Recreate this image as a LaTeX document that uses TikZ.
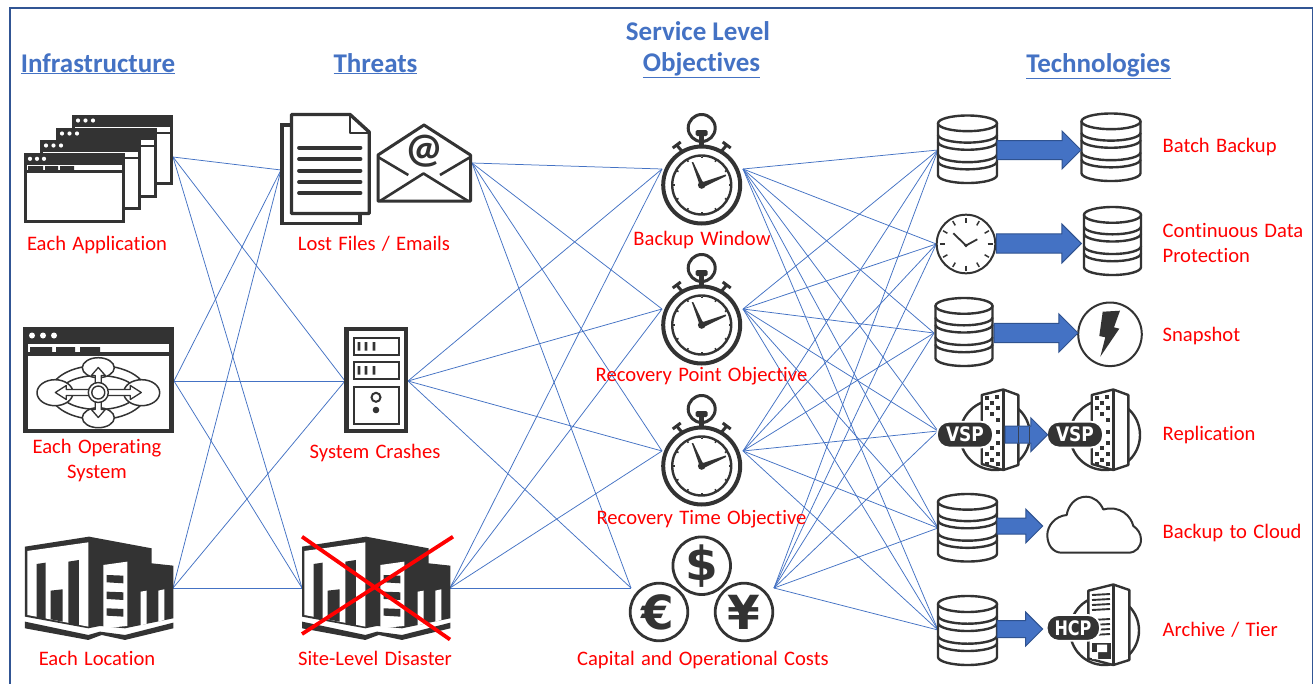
\documentclass[tikz,border=0pt]{standalone}
\usepackage{fontspec}
\setmainfont{Carlito}[Ligatures=NoCommon]
\newfontfamily\labfont{Carlito}[Ligatures=NoCommon,WordSpace=1.35]
\newfontfamily\symfont{DejaVu Sans}
\usetikzlibrary{calc,shapes.arrows}
\definecolor{dk}{HTML}{333333}
\definecolor{linkblue}{HTML}{4472C4}
\definecolor{edgeblue}{HTML}{2F528F}
\definecolor{redlab}{HTML}{FF0000}
\tikzset{
  hub/.style={inner sep=0pt,outer sep=0pt,minimum width=#1,minimum height=20pt,shape=rectangle},
  link/.style={draw=linkblue,line width=0.75pt},
  head/.style={font=\fontsize{27}{31}\selectfont\bfseries,text=linkblue,inner sep=0pt,align=center,anchor=base},
  lab/.style={font=\labfont\fontsize{20.6}{25}\selectfont,text=redlab,inner sep=0pt,align=center,anchor=base},
  labm/.style={font=\labfont\fontsize{20.6}{25}\selectfont,text=redlab,inner sep=0pt,align=center},
  labl/.style={font=\labfont\fontsize{20.6}{25}\selectfont,text=redlab,inner sep=0pt,align=left,anchor=base west},
  labw/.style={font=\labfont\fontsize{20.6}{25}\selectfont,text=redlab,inner sep=0pt,align=left,anchor=west},
  blockarrow/.style={single arrow,fill=linkblue,draw=edgeblue,line width=1pt,inner xsep=0pt,outer sep=0pt,
    minimum height=#1,single arrow tip angle=90,anchor=tail},
  ico/.style={draw=dk,line width=2.4pt,line join=round},
  pilltext/.style={font=\symfont\fontsize{20}{20}\selectfont\bfseries,text=white,inner sep=0pt},
  coin/.style={font=\symfont\fontsize{47}{47}\selectfont\bfseries,text=dk,inner sep=0pt},
}
\newcommand{\backwin}[2]{%
  \begin{scope}[shift={(#1,#2)}]
  \fill[dk] (0,0) rectangle (101,70);
  \fill[white] (3,11.5) rectangle (98,16.5);
  \fill[white] (3,18.5) rectangle (98,67);
  \foreach \q in {6,13.5,21}{\fill[white] (\q,5.5) circle (2.1);}
  \end{scope}}
\newcommand{\dbicon}[4]{%
  \begin{scope}[shift={(#1,#2)},xscale=#3/60,yscale=#4/70]
  \draw[ico,fill=white] (0,8) -- (0,61) arc[start angle=180,end angle=0,x radius=30,y radius=8] -- (60,8) -- cycle;
  \draw[ico,fill=white] (30,8) ellipse[x radius=30,y radius=8];
  \foreach \q in {19.7,27,39.7,47}{\draw[ico] (0,\q) arc[start angle=180,end angle=0,x radius=30,y radius=8];}
  \end{scope}}
\newcommand{\stopwatch}[2]{%
  \begin{scope}[shift={(#1,#2)}]
  \draw[ico,line width=3pt,fill=white] (0,-57) circle (13.5);
  \fill[dk] (-2.5,-51) rectangle (2.5,-36);
  \fill[dk,rounded corners=1.5pt] (-6,-55) rectangle (6,-49);
  \draw[ico,line width=3pt] (-20,-34) -- (-25,-40) (-29,-37) -- (-21,-43);
  \draw[ico,line width=3pt] (20,-34) -- (25,-40) (29,-37) -- (21,-43);
  \draw[ico,line width=4pt,fill=white] (0,0) circle (38.5);
  \draw[ico,line width=2.4pt] (0,0) circle (29.5);
  \foreach \q in {0,30,...,330}{\draw[dk,line width=1.6pt] (\q:28.5) -- (\q:26.8);}
  \fill[dk] (-2,0) -- (-10,-23) -- (-8.5,-23) -- (2,-1) -- cycle;
  \fill[dk] (0,-2.5) -- (24,-10.5) -- (24.5,-9) -- (1,2.5) -- cycle;
  \fill[dk] (0,0) circle (3.8);
  \end{scope}}
\newcommand{\building}[1]{%
  \begin{scope}[shift={(#1,320)},x=0.3333pt,y=-0.3333pt]
  \fill[dk] (75,680) -- (267,650) -- (455,685) -- (455,730) -- (520,737) -- (520,895) -- (375,925) -- (300,918) -- (265,925) -- (75,890) -- cycle;
  \fill[dk] (75,905) -- (265,945) -- (300,935) -- (375,945) -- (520,908) -- (520,925) -- (375,960) -- (305,945) -- (265,960) -- (75,925) -- cycle;
  \fill[white] (82,693) -- (265,667) -- (265,920) -- (82,885) -- cycle;
  \fill[dk] (110,732) -- (137,728) -- (137,898) -- (110,892) -- cycle;
  \fill[dk] (152,812) -- (188,808) -- (188,905) -- (152,898) -- cycle;
  \fill[dk] (205,725) -- (237,720) -- (237,918) -- (205,912) -- cycle;
  \fill[white] (310,735) -- (382,725) -- (382,918) -- (310,925) -- cycle;
  \fill[dk] (320,765) -- (370,767) -- (370,790) -- (320,787) -- cycle;
  \fill[dk] (320,815) -- (370,817) -- (370,840) -- (320,837) -- cycle;
  \fill[dk] (320,865) -- (370,867) -- (370,890) -- (320,887) -- cycle;
  \fill[white] (422,815) -- (440,812) -- (440,912) -- (422,916) -- cycle;
  \fill[white] (475,812) -- (493,808) -- (493,900) -- (475,905) -- cycle;
  \end{scope}}
\newcommand{\vspicon}[2]{%
  \begin{scope}[shift={(#1,0)}]
  \draw[ico,fill=white] (995,435) circle (35);
  \draw[ico,fill=white] (981.7,395) -- (1003.3,389.5) -- (1018.3,395) -- (1018.3,465) -- (1003.3,470) -- (981.7,464) -- cycle;
  \draw[ico] (1003.3,389.5) -- (1003.3,470);
  \foreach \px/\py in {987/398,997/397,992/403,987/408,998/408,992/414,998/420,998/432,998/443,992/448,987/454,998/454,992/460,987/464,998/464}{\fill[dk] (\px-2.2,\py-2.2) rectangle (\px+2.2,\py+2.2);}
  \draw[white,line width=1.8pt,fill=dk,rounded corners=12pt] (937,421.7) rectangle (993,447.5);
  \node[pilltext] (#2) at (965,434.6) {\scalebox{0.85}[1]{VSP}};
  \end{scope}}
\begin{document}
\begin{tikzpicture}[x=1pt,y=-1pt]
\useasboundingbox (0,0) rectangle (1315,683);
\fill[white] (0,0) rectangle (1315,683);
\draw[edgeblue!90!linkblue,line width=1.4pt] (10,684) -- (10,8) -- (1312.5,8) -- (1312.5,684);

% invisible anchor nodes of the icons
\node[hub=149] (app) at (98.5,157) {};
\node[hub=151] (os) at (98.5,381) {};
\node[hub=148] (loc) at (99,588) {};
\node[hub=90] (files) at (326,170) {};
\node[hub=96] (mail) at (424,163) {};
\node[hub=63] (crash) at (376.5,381) {};
\node[hub=148] (site) at (376,588) {};
\node[hub=81] (bw) at (702.5,169) {};
\node[hub=81] (rpo) at (702.5,309) {};
\node[hub=81] (rto) at (702.5,451) {};
\node[hub=143] (costs) at (702.5,588) {};
\node[hub=59] (dba) at (967.5,150) {};
\node[hub=60] (clk) at (966.3,244) {};
\node[hub=60] (dbd) at (964,333) {};
\node[hub=67] (vspa) at (971.5,431) {};
\node[hub=59] (dbe) at (967.5,528) {};
\node[hub=59] (dbf) at (967.5,630) {};

% links
\foreach \a in {app,os,loc}{\foreach \b in {files,crash,site}{\draw[link] (\a.east) -- (\b.west);}}
\foreach \a in {mail,crash,site}{\foreach \b in {bw,rpo,rto,costs}{\draw[link] (\a.east) -- (\b.west);}}
\foreach \a in {bw,rpo,rto,costs}{\foreach \b in {dba,clk,dbd,vspa,dbe,dbf}{\draw[link] (\a.east) -- (\b.west);}}

% headers
\node[head] (h1) at (98,72) {\underline{Infrastructure}};
\node[head] (h2) at (375.5,72) {\underline{Threats}};
\node[head] (h3a) at (698,40) {Service Level};
\node[head] (h3b) at (701.5,71.5) {\underline{Objectives}};
\node[head] (h4) at (1098.5,72) {\underline{Technologies}};

% application windows
\backwin{72}{115}\backwin{56}{128}\backwin{40}{140}
\begin{scope}[shift={(24,153)}]
\fill[dk] (0,0) rectangle (101,70);
\fill[white] (3,12) rectangle (98,17);
\fill[white] (3,19.5) rectangle (98,67);
\foreach \q in {6,13,20}{\fill[white] (\q,5.8) circle (2.1);}
\fill[dk] (4,13) rectangle (19,17) (21,13) rectangle (34,17) (36,13) rectangle (50,17);
\end{scope}
% operating system window
\fill[dk] (23,327) rectangle (174,433);
\fill[white] (28,344) rectangle (169,352);
\fill[white] (28,356) rectangle (169,429);
\foreach \q in {32,43,54}{\fill[white] (\q,335.5) circle (3);}
\fill[dk] (30,347) rectangle (52,352) (56,347) rectangle (75,352) (80,347) rectangle (100,352);
\draw[ico,line width=1.5pt] (98.3,392.5) ellipse[x radius=48,y radius=27];
\draw[ico,line width=1.5pt] (98.3,392.5) ellipse[x radius=38,y radius=17];
\draw[ico,line width=1.5pt,fill=white] (98.3,367.7) ellipse[x radius=16,y radius=10];
\draw[ico,line width=1.5pt,fill=white] (98.3,417.7) ellipse[x radius=16,y radius=10];
\draw[ico,line width=1.5pt,fill=white] (55,392.7) ellipse[x radius=18,y radius=13];
\draw[ico,line width=1.5pt,fill=white] (141.7,392.7) ellipse[x radius=18,y radius=13];
\begin{scope}[shift={(98.3,392.5)}]
\draw[ico,line width=1.3pt,fill=white] (-3,-15) -- (-3,-17) -- (-7,-17) -- (0,-25) -- (7,-17) -- (3,-17) -- (3,-3) -- (32,-3) -- (32,-7) -- (43,0) -- (32,7) -- (32,3) -- (3,3) -- (3,17) -- (7,17) -- (0,25) -- (-7,17) -- (-3,17) -- (-3,3) -- (-32,3) -- (-32,7) -- (-43,0) -- (-32,-7) -- (-32,-3) -- (-3,-3) -- cycle;
\draw[ico,line width=1.4pt,fill=white] (0,0) circle (10);
\draw[ico,line width=1.4pt] (0,0) circle (6.5);
\end{scope}
% buildings
\building{0}
\building{277}
\draw[redlab,line width=3.8pt] (302,536.7) -- (450,639.5);
\draw[redlab,line width=3.8pt] (453,536.7) -- (302,634);
% documents
\fill[dk] (280,123) rectangle (361.7,225);
\fill[white] (283.5,126.5) rectangle (358,221.5);
\draw[ico,line width=3.4pt,fill=white] (291.5,114.5) -- (350,114.5) -- (369.2,132) -- (369.2,213.5) -- (291.5,213.5) -- cycle;
\draw[ico,line width=2.6pt] (350,114.5) -- (350,133) -- (369.2,133);
\foreach \q in {147.7,159,170.7,182,193}{\draw[dk,line width=3.8pt,line cap=round] (299,\q) -- (360.5,\q);}
% envelope
\draw[ico,line width=3pt,fill=white] (378,155) -- (424,125) -- (470.5,155) -- (470.5,201) -- (378,201) -- cycle;
\draw[ico,line width=2.6pt] (378,157) -- (408.3,175) (470.5,157) -- (440,175) (380,201) -- (423.5,173.5) -- (468,201);
\node[font=\fontsize{42}{42}\selectfont\bfseries,text=dk,inner sep=0pt] (at) at (424,151) {@};
% server
\fill[dk] (344,327) rectangle (408,433);
\fill[white] (348.5,331) rectangle (404,428.5);
\draw[dk,line width=2pt] (354,337.5) rectangle (399,355) (354,361.5) rectangle (399,379) (354,386.5) rectangle (399,424);
\foreach \q in {359,366,374}{\fill[dk] (\q-1.4,342) rectangle (\q+1.4,350.5) (\q-1.4,366) rectangle (\q+1.4,374.5);}
\draw[dk,line width=2pt] (376,397.3) circle (4.5);
\fill[dk] (376,410) circle (3.3);
% stopwatches
\stopwatch{701.7}{185}
\stopwatch{701.7}{325}
\stopwatch{701.7}{466}
% coins
\draw[ico,line width=2.8pt,fill=white] (701.7,565.7) circle (28.8);
\draw[ico,line width=2.8pt,fill=white] (659,612) circle (28.8);
\draw[ico,line width=2.8pt,fill=white] (744,612) circle (28.8);
\node[coin] (dollar) at (701.7,566) {\$};
\node[coin] (euro) at (657.5,612) {€};
\node[coin] (yen) at (744,612.5) {¥};
% technology icons
\dbicon{938}{115.5}{59}{68.5}
\dbicon{1081.5}{113.5}{59}{68.5}
\draw[ico,line width=2pt,fill=white] (966,244) circle (29.3);
\foreach \q in {0,30,...,330}{\draw[dk,line width=1.5pt] (\q:1) ++(966,244) ++(\q:20.5) -- ++(\q:5);}
\draw[dk,line width=1.8pt] (953.3,233.3) -- (966,245.5) -- (977.3,239.3);
\fill[dk] (966,245.5) circle (1.8);
\dbicon{1084}{207}{57}{69}
\dbicon{935.5}{298}{57}{69}
\draw[ico,line width=2pt,fill=white] (1110,334.3) circle (31.8);
\fill[dk] (1102.7,311.7) -- (1120,310.7) -- (1114,327.3) -- (1119.3,328.7) -- (1100.3,356.7) -- (1105.3,337.3) -- (1099.3,336) -- cycle;
\vspicon{0}{vspta}
\vspicon{110}{vsptb}
\dbicon{938}{494}{59}{68.5}
\draw[ico,line width=2pt,fill=white] (1061.7,552.7) -- (1128.3,552.7) .. controls (1136,552.7) and (1141,547) .. (1141,539.5) .. controls (1141,533) and (1137,528.5) .. (1133.3,526) .. controls (1131,516) and (1120,505) .. (1103.3,509.5) .. controls (1100,502) and (1094,496.7) .. (1086,496.7) .. controls (1075,496.7) and (1068,506) .. (1066.7,515) .. controls (1055,516) and (1047.3,526) .. (1047.3,535) .. controls (1047.3,545) and (1053,552.7) .. (1061.7,552.7) -- cycle;
\dbicon{938}{596}{59}{70}
% HCP
\draw[ico,fill=white] (1104.5,630.5) circle (34.5);
\draw[ico,fill=white] (1088.3,590.7) -- (1113.3,584.5) -- (1129.3,590) -- (1129.3,660) -- (1113.3,665) -- (1088.3,658.5) -- cycle;
\draw[ico] (1113.3,584.5) -- (1113.3,665);
\foreach \q in {595,600,605,610,620,625,630,635}{\draw[dk,line width=1.9pt] (1092,\q) -- (1110,\q-1);}
\fill[dk] (1092,643) rectangle (1111,659);
\fill[white] (1097,644.5) rectangle (1107,652) (1092,652) rectangle (1098,659);
\draw[white,line width=1.8pt,fill=dk,rounded corners=12pt] (1046.7,615) rectangle (1100,640.8);
\node[pilltext] (hcpt) at (1073,628) {\scalebox{0.8}[1]{HCP}};
% block arrows
\node[blockarrow=84,inner ysep=9pt,single arrow head extend=9.3pt] (ar1) at (dba.east) {};
\node[blockarrow=85,inner ysep=9.2pt,single arrow head extend=9.7pt,yshift=0.5pt] (ar2) at (clk.east) {};
\node[blockarrow=84,inner ysep=9.2pt,single arrow head extend=9.5pt] (ar3) at (dbd.east) {};
\node[blockarrow=42.7,inner ysep=8pt,single arrow head extend=8.4pt,yshift=-3.7pt] (ar4) at (vspa.east) {};
\node[blockarrow=45.7,inner ysep=7.5pt,single arrow head extend=8.9pt,yshift=2pt] (ar5) at (dbe.east) {};
\node[blockarrow=45.7,inner ysep=8pt,single arrow head extend=8.5pt,yshift=1pt] (ar6) at (dbf.east) {};
\draw[dk,line width=1.6pt,opacity=.75] (1003.3,426.5) -- (1003.3,443) (1018.3,426.5) -- (1018.3,443) (1029.5,426.5) -- (1029.5,443);

% labels
\node[lab] (l1) at (97,250) {Each Application};
\node[lab] (l2) at (374,250) {Lost Files / Emails};
\node[labm] (l3) at (97,460.5) {Each Operating\\System};
\node[lab] (l4) at (375,458.3) {System Crashes};
\node[lab] (l5) at (97,665) {Each Location};
\node[lab] (l6) at (375,665) {Site-Level Disaster};
\node[lab] (l7) at (702,245) {Backup Window};
\node[lab] (l8) at (701.5,381.5) {Recovery Point Objective};
\node[lab] (l9) at (701.5,524.3) {Recovery Time Objective};
\node[lab] (l10) at (703,665.7) {Capital and Operational Costs};
\node[labl] (r1) at (1162.5,152.5) {Batch Backup};
\node[labw] (r2) at (1162.5,243) {Continuous Data\\Protection};
\node[labl] (r3) at (1162.5,341) {Snapshot};
\node[labl] (r4) at (1162.5,440) {Replication};
\node[labl] (r5) at (1162.5,538) {Backup to Cloud};
\node[labl] (r6) at (1162.5,636) {Archive / Tier};
\end{tikzpicture}
\end{document}
